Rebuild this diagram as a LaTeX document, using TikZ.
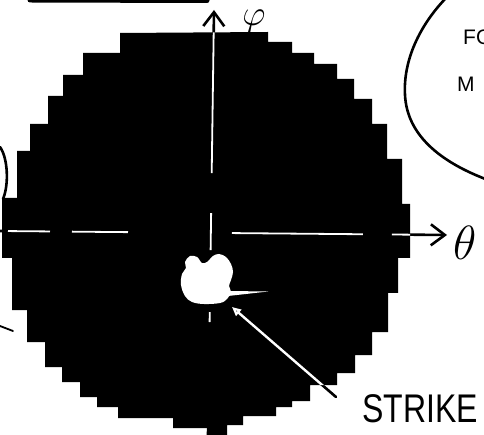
\documentclass[tikz,border=0pt]{standalone}
\usepackage{fix-cm}
\usepackage{fontspec}
\setmainfont{Liberation Sans}
\usepackage{tikz}
\usetikzlibrary{arrows.meta,positioning,calc}
\definecolor{cInk}{HTML}{000000}
\definecolor{cPaper}{HTML}{FFFFFF}
\tikzset{
  ink/.style={draw=cInk,line width=2.6pt,line cap=round,line join=round},
  chalk/.style={draw=cPaper,line width=1.8pt,line cap=butt},
  axarr/.style={-{Straight Barb[length=14pt,width=21pt]}},
  hitarr/.style={-{Triangle[open,length=9pt,width=8pt]}},
  hand/.style={font=\fontsize{40}{40}\selectfont,text=cInk,inner sep=0pt},
  note/.style={font=\fontsize{21}{21}\selectfont,text=cInk,inner sep=0pt},
  greek/.style={font=\fontsize{#1}{#1}\selectfont,text=cInk,inner sep=0pt},
}
% stair-stepped outline of the disk (picture units, y downwards)
\newcommand{\diskoutline}{(120,33) -- (268,32) -- (268,42) -- (292,42) -- (292,53) -- (314,53) -- (314,64) -- (337,64) -- (337,79)
  -- (354,79) -- (354,99) -- (372,99) -- (372,124) -- (387,124) -- (387,159) -- (402,159) -- (402,204) -- (410,204)
  -- (410,258) -- (398,258) -- (398,293) -- (388,293) -- (388,332) -- (372,332) -- (372,355) -- (355,355) -- (355,373)
  -- (337,373) -- (337,385) -- (310,385) -- (310,401) -- (292,401) -- (292,407) -- (276,407) -- (276,416) -- (243,416)
  -- (243,425) -- (227,425) -- (227,435) -- (208,435) -- (208,428) -- (173,428) -- (173,418) -- (118,418) -- (118,407)
  -- (97,407) -- (97,397) -- (80,397) -- (80,382) -- (62,382) -- (62,367) -- (45,367) -- (45,342) -- (27,342) -- (27,310)
  -- (12,310) -- (12,258) -- (2,258) -- (2,198) -- (17,198) -- (17,151) -- (30,151) -- (30,124) -- (48,124) -- (48,96)
  -- (63,96) -- (63,75) -- (83,75) -- (83,53) -- (120,53) -- cycle}

\begin{document}
\begin{tikzpicture}[x=1pt,y=-1pt]
  \useasboundingbox (0,0) rectangle (484,435);
  \clip (0,0) rectangle (484,435);
  % edges of the neighbouring bubbles, cut by the frame
  \draw[ink,line width=5pt] (30,0) -- (207,0.5);
  \draw[ink] (446,-2) .. controls (420,25) and (403,60) .. (405,95) .. controls (407,135) and (440,162) .. (488,180);
  \draw[ink] (0,147) .. controls (8,158) and (9,185) .. (3,199);
  \draw[ink,line width=1.8pt] (0,326) -- (13,331);
  \node[note,anchor=base west] (noteFO) at (463,45) {FO};
  \node[note,anchor=base west] (noteM) at (457,92) {M};

  \fill[cInk] \diskoutline;

  \coordinate (phiFoot)    at (208,435);
  \coordinate (phiTip)     at (214,10);
  \coordinate (thetaFoot)  at (0,231);
  \coordinate (thetaTip)   at (447,235);
  \coordinate (strikeTail) at (336,397);
  \coordinate (hit)        at (232,307);
  \node[greek=36] (phiLbl)   at (254,21)  {$\varphi$};
  \node[greek=48] (thetaLbl) at (465,243) {$\theta$};
  \node[hand,anchor=base west] (strikeLbl) at (362,422) {\scalebox{0.8}[1]{STRIKE}};

  \draw[ink,axarr] (phiFoot) -- (phiTip);
  \draw[ink,axarr] (thetaFoot) -- (thetaTip);
  \draw[ink,hitarr] (strikeTail) -- (hit);

  % white strokes where the lines cross the disk
  \begin{scope}
    \clip \diskoutline;
    \draw[chalk,dash pattern=on 0pt off 113pt on 10pt off 62pt on 37pt off 40pt on 150pt] (phiFoot) -- (phiTip);
    \draw[chalk,dash pattern=on 0pt off 8pt on 42pt off 22pt on 56pt off 104pt on 131pt off 29pt on 60pt] (thetaFoot) -- (thetaTip);
    \draw[chalk,line width=2.4pt,line cap=round,hitarr] (strikeTail) -- (hit);
    % struck spot
    \fill[cPaper] plot[smooth cycle,tension=0.6] coordinates {(185,262) (190,256) (197,257) (202,263) (207,262) (213,256)
      (219,254) (226,257) (231,264) (233,272) (231,280) (229,286) (231,292) (227,299) (220,303) (204,304) (192,302)
      (185,296) (181,285) (182,274) (186,268)};
    \fill[cPaper] (228,291) -- (268,291.5) -- (228,296) -- cycle;
  \end{scope}
\end{tikzpicture}
\end{document}
